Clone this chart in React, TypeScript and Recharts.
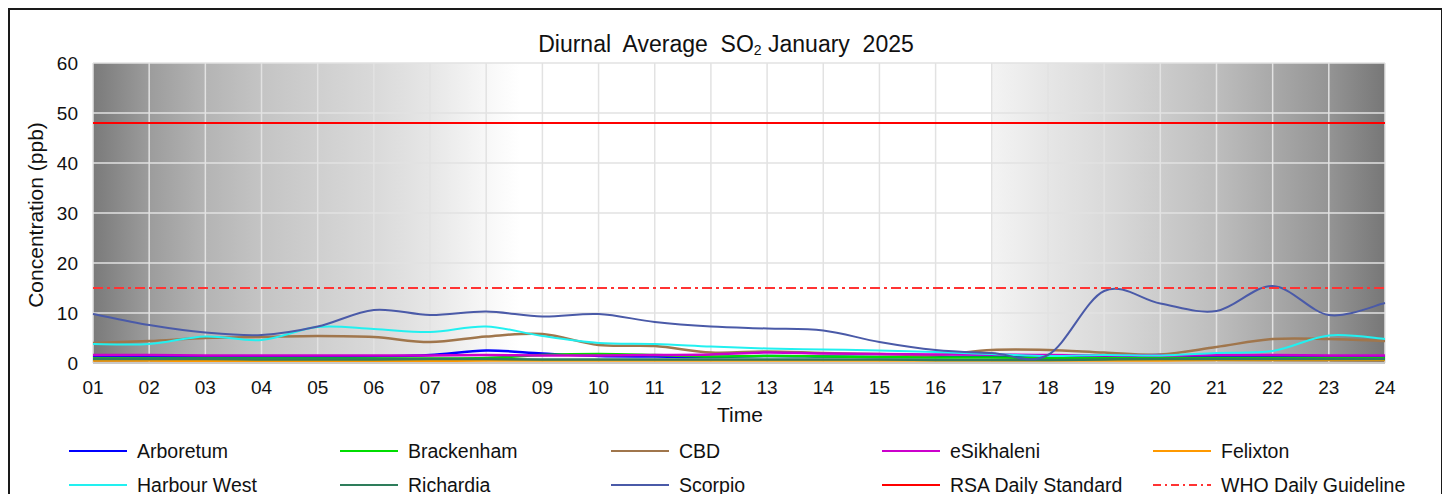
import React from 'react';
import { LineChart, Line, XAxis, YAxis, CartesianGrid, ReferenceLine, Customized } from 'recharts';

const hours = ['01','02','03','04','05','06','07','08','09','10','11','12','13','14','15','16','17','18','19','20','21','22','23','24'];
const yTicks = [0, 10, 20, 30, 40, 50, 60];

const arboretum = [1.4, 1.3, 1.2, 1.2, 1.2, 1.3, 1.6, 2.5, 1.9, 1.4, 1.3, 1.2, 1.4, 1.3, 1.2, 1.2, 1.3, 1.2, 1.2, 1.6, 1.3, 1.3, 1.2, 1.2];
const brackenham = [0.9, 0.9, 0.9, 0.9, 0.9, 0.9, 0.9, 1.0, 1.6, 1.8, 1.6, 1.3, 1.4, 1.3, 1.2, 1.1, 1.1, 1.0, 1.0, 1.0, 1.0, 1.0, 1.0, 1.0];
const cbd = [4.0, 4.4, 5.0, 5.2, 5.4, 5.2, 4.2, 5.3, 5.8, 3.6, 3.4, 2.1, 2.3, 2.0, 1.8, 1.6, 2.6, 2.6, 2.1, 1.7, 3.2, 4.8, 4.8, 4.4];
const eSikhaleni = [1.6, 1.6, 1.5, 1.5, 1.5, 1.5, 1.5, 1.6, 1.5, 1.5, 1.6, 1.7, 2.1, 1.9, 1.8, 1.7, 1.7, 1.6, 1.5, 1.5, 1.6, 1.6, 1.5, 1.5];
const felixton = [0.5, 0.5, 0.4, 0.4, 0.4, 0.4, 0.4, 0.5, 0.5, 0.5, 0.5, 0.5, 0.5, 0.5, 0.5, 0.5, 0.5, 0.5, 0.5, 0.5, 0.6, 0.6, 0.6, 0.6];
const harbourWest = [3.8, 3.8, 5.3, 4.6, 7.2, 6.8, 6.2, 7.3, 5.4, 4.0, 3.8, 3.3, 2.9, 2.7, 2.5, 2.2, 1.8, 1.4, 1.6, 1.5, 2.0, 2.4, 5.5, 4.8];
const richardia = [0.8, 0.8, 0.8, 0.7, 0.7, 0.7, 0.8, 0.8, 0.7, 0.7, 0.7, 0.7, 0.7, 0.7, 0.7, 0.6, 0.6, 0.6, 0.7, 0.8, 0.8, 0.8, 0.8, 0.8];
const scorpio = [9.8, 7.6, 6.1, 5.6, 7.3, 10.6, 9.6, 10.3, 9.3, 9.8, 8.2, 7.3, 6.9, 6.5, 4.2, 2.6, 2.0, 1.6, 14.4, 11.9, 10.4, 15.4, 9.6, 12.0];

const RSA_DAILY_STANDARD = 48;
const WHO_DAILY_GUIDELINE = 15;

const series = [
  { key: 'Arboretum', values: arboretum, color: '#0000ff' },
  { key: 'Brackenham', values: brackenham, color: '#00dd00' },
  { key: 'CBD', values: cbd, color: '#a0764c' },
  { key: 'eSikhaleni', values: eSikhaleni, color: '#cc00cc' },
  { key: 'Felixton', values: felixton, color: '#ff9900' },
  { key: 'Harbour West', values: harbourWest, color: '#22f0f0' },
  { key: 'Richardia', values: richardia, color: '#2e7d5b' },
  { key: 'Scorpio', values: scorpio, color: '#4a5aa8' },
];

const data = hours.map((h, i) => {
  const row: Record<string, any> = { hour: h };
  series.forEach((s) => { row[s.key] = s.values[i]; });
  return row;
});

const legendItems = [
  ...series.map((s) => ({ name: s.key, color: s.color, dash: undefined as string | undefined })),
  { name: 'RSA Daily Standard', color: '#ff0000', dash: undefined },
  { name: 'WHO Daily Guideline', color: '#ff3333', dash: '8 4 2 4' },
];

// Excel-like smoothed line (Catmull-Rom as cubic Bezier)
function excelSmooth(context: any) {
  let pts: number[][] = [];
  return {
    areaStart() {},
    areaEnd() {},
    lineStart() { pts = []; },
    point(x: number, y: number) { pts.push([+x, +y]); },
    lineEnd() {
      const n = pts.length;
      if (!n) return;
      context.moveTo(pts[0][0], pts[0][1]);
      for (let i = 0; i < n - 1; i++) {
        const p0 = pts[i - 1] || pts[i];
        const p1 = pts[i];
        const p2 = pts[i + 1];
        const p3 = pts[i + 2] || p2;
        context.bezierCurveTo(
          p1[0] + (p2[0] - p0[0]) / 6, p1[1] + (p2[1] - p0[1]) / 6,
          p2[0] - (p3[0] - p1[0]) / 6, p2[1] - (p3[1] - p1[1]) / 6,
          p2[0], p2[1]
        );
      }
    },
  };
}

const FONT = '"Liberation Sans", Arial, sans-serif';

const Decorations = () => {
  const cols = [59, 330, 601, 872, 1143];
  const rows = [441, 475];
  return (
    <g fontFamily={FONT} fill="#111">
      <text x={716} y={34} textAnchor="middle" dominantBaseline="central" fontSize={23} style={{ whiteSpace: 'pre' }}>
        <tspan>{'Diurnal  Average  SO'}</tspan>
        <tspan fontSize={14} dy={6}>2</tspan>
        <tspan dy={-6}>{' January  2025'}</tspan>
      </text>
      <text x={25} y={205} transform="rotate(-90 25 205)" textAnchor="middle" dominantBaseline="central" fontSize={21}>
        Concentration (ppb)
      </text>
      <text x={730} y={404} textAnchor="middle" dominantBaseline="central" fontSize={21}>Time</text>
      {legendItems.map((it, i) => {
        const cx = cols[i % 5];
        const cy = rows[Math.floor(i / 5)];
        return (
          <g key={it.name}>
            <line x1={cx} x2={cx + 58} y1={cy} y2={cy} stroke={it.color} strokeWidth={2} strokeDasharray={it.dash} />
            <text x={cx + 68} y={cy} dominantBaseline="central" fontSize={19.5}>{it.name}</text>
          </g>
        );
      })}
    </g>
  );
};

export default function App() {
  return (
    <div style={{ width: 1435, height: 494, marginBottom: -8, border: '2px solid #1a1a1a', borderBottom: 'none', boxSizing: 'border-box', overflow: 'hidden', background: '#fff' }}>
      <LineChart width={1430} height={492} data={data} margin={{ top: 53, right: 55, left: 0, bottom: 109 }}>
        <defs>
          <linearGradient id="bgGrad" x1="0" y1="0" x2="1" y2="0">
            <stop offset="0" stopColor="#7a7a7a" />
            <stop offset="0.0435" stopColor="#9c9c9c" />
            <stop offset="0.087" stopColor="#b4b4b4" />
            <stop offset="0.13" stopColor="#c4c4c4" />
            <stop offset="0.174" stopColor="#cfcfcf" />
            <stop offset="0.217" stopColor="#d9d9d9" />
            <stop offset="0.26" stopColor="#e6e6e6" />
            <stop offset="0.304" stopColor="#f7f7f7" />
            <stop offset="0.33" stopColor="#ffffff" />
            <stop offset="0.695" stopColor="#ffffff" />
            <stop offset="0.697" stopColor="#f3f3f3" />
            <stop offset="0.739" stopColor="#e6e6e6" />
            <stop offset="0.783" stopColor="#dadada" />
            <stop offset="0.826" stopColor="#cccccc" />
            <stop offset="0.87" stopColor="#bdbdbd" />
            <stop offset="0.913" stopColor="#a9a9a9" />
            <stop offset="0.957" stopColor="#949494" />
            <stop offset="1" stopColor="#777777" />
          </linearGradient>
        </defs>
        <CartesianGrid stroke="#e2e2e2" strokeWidth={1.5} fill="url(#bgGrad)" fillOpacity={1} />
        <XAxis
          dataKey="hour"
          tickLine={false}
          tickSize={8}
          tickMargin={10}
          axisLine={{ stroke: '#c8c8c8', strokeWidth: 2 }}
          height={30}
          interval={0}
          tick={{ fontSize: 19, fill: '#111', fontFamily: FONT }}
        />
        <YAxis
          domain={[0, 60]}
          ticks={yTicks}
          width={83}
          tickLine={false}
          axisLine={false}
          tickSize={5}
          tickMargin={10}
          interval={0}
          tick={{ fontSize: 19, fill: '#111', fontFamily: FONT }}
        />
        {series.map((s) => (
          <Line
            key={s.key}
            dataKey={s.key}
            type={excelSmooth as any}
            stroke={s.color}
            strokeWidth={s.key === 'Scorpio' || s.key === 'Harbour West' ? 2 : 2.5}
            dot={false}
            activeDot={false}
            isAnimationActive={false}
          />
        ))}
        <ReferenceLine y={RSA_DAILY_STANDARD} stroke="#ff0000" strokeWidth={1.8} />
        <ReferenceLine y={WHO_DAILY_GUIDELINE} stroke="#ff3333" strokeWidth={2} strokeDasharray="10 4 3 4" />
        <Customized component={Decorations} />
      </LineChart>
    </div>
  );
}
